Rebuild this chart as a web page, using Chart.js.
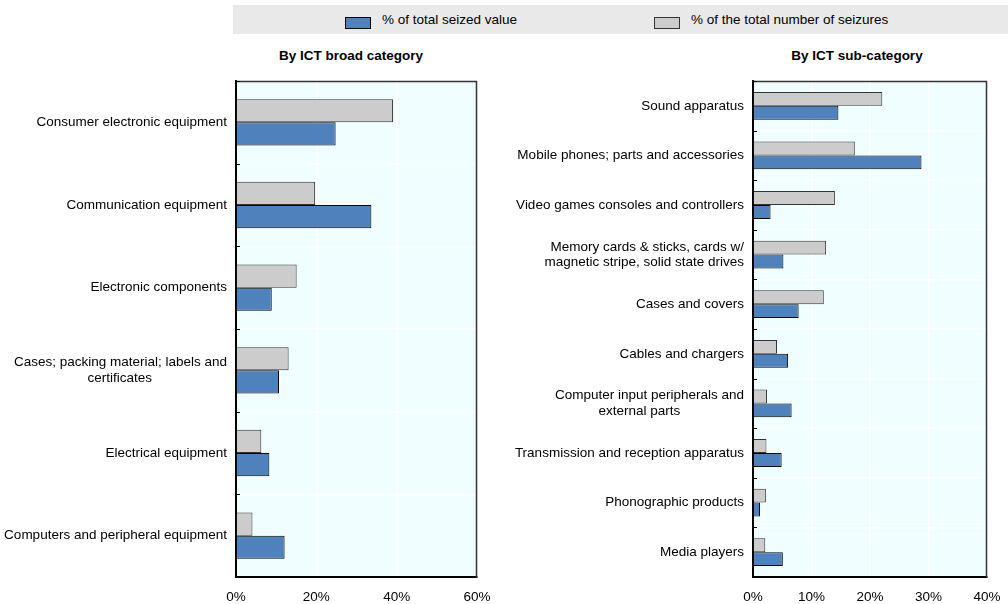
<!DOCTYPE html>
<html>
<head>
<meta charset="utf-8">
<script src="https://cdn.jsdelivr.net/npm/chart.js@4/dist/chart.umd.min.js"></script>
<style>
  html, body { margin:0; padding:0; background:#fff; }
  body { width:1008px; height:604px; position:relative; overflow:hidden;
         font-family:"Liberation Sans",Arial,sans-serif; color:#000; }
  #band { position:absolute; left:233px; top:5px; width:775px; height:29px; background:#E9E9E9; }
  .lbox { position:absolute; top:17px; width:24px; height:10px; border:1px solid #000; }
  .ltxt { position:absolute; top:11px; font-size:13.5px; line-height:18px; white-space:nowrap; }
  .title { position:absolute; top:48px; font-size:13.5px; font-weight:bold; white-space:nowrap; text-align:center; }
  canvas { position:absolute; }
</style>
</head>
<body>
<div id="band"></div>
<div class="lbox" style="left:345px;background:#4F81BD;"></div>
<div class="ltxt" style="left:382px;">% of total seized value</div>
<div class="lbox" style="left:654px;background:#CCCCCC;border-color:#333;"></div>
<div class="ltxt" style="left:691px;">% of the total number of seizures</div>
<div class="title" style="left:251px;width:200px;">By ICT broad category</div>
<div class="title" style="left:757px;width:200px;">By ICT sub-category</div>
<canvas id="c1" width="490" height="534" style="left:0;top:70px;"></canvas>
<canvas id="c2" width="518" height="534" style="left:490px;top:70px;"></canvas>
<script>
const FONT = '"Liberation Sans",Arial,sans-serif';

const seriesNames = ['% of total seized value', '% of the total number of seizures'];

const broadCategories = [
  'Consumer electronic equipment',
  'Communication equipment',
  'Electronic components',
  ['Cases; packing material; labels and', 'certificates                    '],
  'Electrical equipment',
  'Computers and peripheral equipment'
];
const broadValue = [24.8, 33.7, 8.9, 10.7, 8.3, 12.1];
const broadCount = [39.1, 19.7, 15.1, 13.1, 6.3, 4.1];
const broadTicks = [0, 20, 40, 60];

const subCategories = [
  'Sound apparatus',
  'Mobile phones; parts and accessories',
  'Video games consoles and controllers',
  ['Memory cards & sticks, cards w/', 'magnetic stripe, solid state drives'],
  'Cases and covers',
  'Cables and chargers',
  ['Computer input peripherals and', 'external parts                 '],
  'Transmission and reception apparatus',
  'Phonographic products',
  'Media players'
];
const subValue = [14.6, 28.8, 3.0, 5.2, 7.8, 6.0, 6.6, 4.9, 1.2, 5.1];
const subCount = [22.1, 17.4, 14.0, 12.5, 12.1, 4.1, 2.4, 2.3, 2.2, 2.1];
const subTicks = [0, 10, 20, 30, 40];

const frame = {
  id: 'frame',
  beforeDraw(chart) {
    const a = chart.chartArea, c = chart.ctx;
    c.save();
    c.fillStyle = '#F0FEFF';
    c.fillRect(a.left, a.top, a.right - a.left, a.bottom - a.top);
    c.restore();
  },
  afterDraw(chart) {
    const a = chart.chartArea, c = chart.ctx;
    c.save();
    c.strokeStyle = '#333';
    c.lineWidth = 1.5;
    c.beginPath();
    c.moveTo(a.left, a.top + 0.5); c.lineTo(a.right - 0.5, a.top + 0.5); c.lineTo(a.right - 0.5, a.bottom);
    c.stroke();
    const y = chart.scales.y;
    c.strokeStyle = '#000';
    c.lineWidth = 1;
    const n = y.ticks.length;
    const half = (y.getPixelForTick(1) - y.getPixelForTick(0)) / 2;
    for (let i = 0; i < n; i++) {
      const py = Math.round(y.getPixelForTick(i) - half) + 0.5;
      c.beginPath(); c.moveTo(a.left, py); c.lineTo(a.left + 4, py); c.stroke();
    }
    c.restore();
  }
};

function makeChart(id, cats, val, cnt, ticks, yWidth, padRight) {
  const maxV = ticks[ticks.length - 1];
  const step = ticks[1] - ticks[0];
  return new Chart(document.getElementById(id), {
    type: 'bar',
    data: {
      labels: cats,
      datasets: [
        { label: seriesNames[1], data: cnt, backgroundColor: '#CCCCCC', borderColor: '#333333', borderWidth: 1 },
        { label: seriesNames[0], data: val, backgroundColor: '#4F81BD', borderColor: '#000000', borderWidth: 1 }
      ]
    },
    options: {
      indexAxis: 'y',
      responsive: false,
      animation: false,
      layout: { padding: { top: 11, right: padRight, left: 0, bottom: 0 } },
      plugins: { legend: { display: false }, tooltip: { enabled: false } },
      datasets: { bar: { categoryPercentage: 0.56, barPercentage: 1.0 } },
      scales: {
        x: {
          min: 0, max: maxV,
          afterFit(s) { s.height = 27; s.paddingLeft = 0; s.paddingRight = 0; },
          ticks: { stepSize: step, color: '#000', padding: 12, font: { family: FONT, size: 13.5 },
                   callback: v => v + '%' },
          grid: { color: '#FFFFFF', lineWidth: 1.5, drawTicks: false },
          border: { color: '#000', width: 2 }
        },
        y: {
          afterFit(s) { s.width = yWidth; s.paddingTop = 0; s.paddingBottom = 0; },
          ticks: { color: '#000', padding: 9, font: { family: FONT, size: 13.5, lineHeight: 1.15 } },
          grid: { offset: true, color: '#FFFFFF', lineWidth: 1.5, drawTicks: false },
          border: { color: '#000', width: 2 }
        }
      }
    },
    plugins: [frame]
  });
}

makeChart('c1', broadCategories, broadValue, broadCount, broadTicks, 236, 13);
makeChart('c2', subCategories, subValue, subCount, subTicks, 263, 21);
</script>
</body>
</html>
